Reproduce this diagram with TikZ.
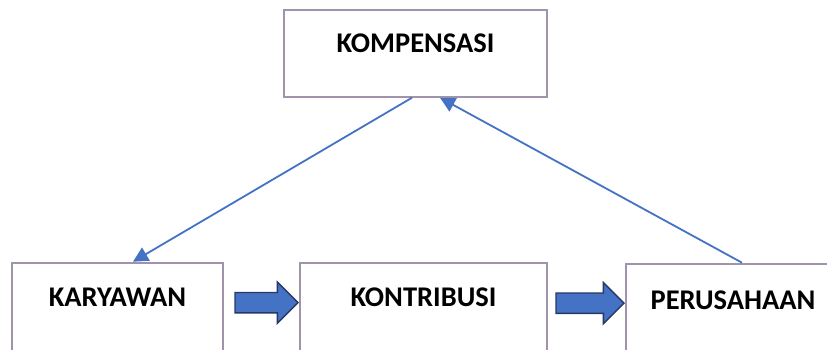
\documentclass[tikz,border=0pt]{standalone}
\usepackage{fontspec}
\setmainfont{Carlito}
\usepackage{tikz}
\usetikzlibrary{arrows.meta,positioning,shapes.arrows}
\definecolor{boxgray}{RGB}{160,148,172}
\definecolor{linkblue}{RGB}{68,114,196}
\definecolor{arrowedge}{RGB}{40,55,100}

\begin{document}
\begin{tikzpicture}[x=1pt,y=1pt,
                box/.style={draw=boxgray,line width=2pt,fill=white,inner sep=0pt,align=center,
                    font=\fontsize{28.5pt}{34pt}\selectfont\bfseries,text height=44pt,text depth=60pt},
                blockarrow/.style={single arrow,draw=arrowedge,fill=linkblue,line width=1.4pt,inner sep=0pt,
                    text height=9.5pt,text depth=9.5pt,single arrow head extend=10.5pt,minimum width=40pt},
                link/.style={color=linkblue,line width=1.8pt,-{Triangle[length=15pt,width=15pt]}}]
                \path[use as bounding box,clip] (0,0) rectangle (827,349);
                \node[box,text width=211pt,anchor=base] (karyawan) at (117.5,42.3) {KARYAWAN};
                \node[box,text width=247pt] (kontribusi) [base right=75pt of karyawan] {KONTRIBUSI};
                \node[box,text width=214pt,text height=46pt] (perusahaan) [base right=77pt of kontribusi,yshift=-3pt] {PERUSAHAAN};
                \node[box,text width=263pt,text height=42.3pt,text depth=44.4pt,anchor=base] (kompensasi) at (415.5,296.7) {KOMPENSASI};
                \node[blockarrow,minimum height=63pt,anchor=tip] (flow1) at ([yshift=4pt]kontribusi.base west) {};
                \node[blockarrow,minimum height=68pt,anchor=tip] (flow2) at ([yshift=6.5pt]perusahaan.base west) {};

                \draw[link] ([xshift=-3.5pt]kompensasi.south) -- ([xshift=15.5pt]karyawan.north);
                \draw[link] ([xshift=9pt]perusahaan.north) -- ([xshift=24.5pt]kompensasi.south);
            \end{tikzpicture}
\end{document}
